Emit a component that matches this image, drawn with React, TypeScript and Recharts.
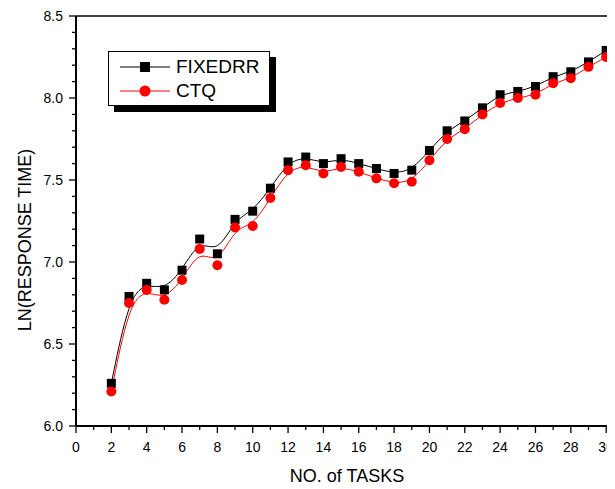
import { LineChart, Line, XAxis, YAxis, Legend, ReferenceLine } from "recharts";

const tasks = [2, 3, 4, 5, 6, 7, 8, 9, 10, 11, 12, 13, 14, 15, 16, 17, 18, 19, 20, 21, 22, 23, 24, 25, 26, 27, 28, 29, 30];
const fixedrr = [6.26, 6.79, 6.87, 6.83, 6.95, 7.14, 7.05, 7.26, 7.31, 7.45, 7.61, 7.64, 7.6, 7.63, 7.6, 7.57, 7.54, 7.56, 7.68, 7.8, 7.86, 7.94, 8.02, 8.04, 8.07, 8.13, 8.16, 8.22, 8.29];
const ctq = [6.21, 6.75, 6.83, 6.77, 6.89, 7.08, 6.98, 7.21, 7.22, 7.39, 7.56, 7.59, 7.54, 7.58, 7.55, 7.51, 7.48, 7.49, 7.62, 7.75, 7.81, 7.9, 7.97, 8.0, 8.02, 8.09, 8.12, 8.19, 8.25];

const seriesOrder = ["FIXEDRR", "CTQ"];
const xTicks = [0, 1, 2, 3, 4, 5, 6, 7, 8, 9, 10, 11, 12, 13, 14, 15, 16, 17, 18, 19, 20, 21, 22, 23, 24, 25, 26, 27, 28, 29, 30];
const yTicks = [6.0, 6.1, 6.2, 6.3, 6.4, 6.5, 6.6, 6.7, 6.8, 6.9, 7.0, 7.1, 7.2, 7.3, 7.4, 7.5, 7.6, 7.7, 7.8, 7.9, 8.0, 8.1, 8.2, 8.3, 8.4, 8.5];

const data = tasks.map((t, i) => ({ tasks: t, FIXEDRR: fixedrr[i], CTQ: ctq[i] }));

const FONT = "'Liberation Sans', Arial, sans-serif";

const XTick = (props: any) => {
  const { x, y, payload } = props;
  const v = payload.value;
  const major = v % 2 === 0;
  return (
    <g>
      <line x1={x} x2={x} y1={y} y2={y + (major ? 7 : 4)} stroke="#000" strokeWidth={1.3} />
      {major && (
        <text x={x} y={y + 26} textAnchor="middle" fontSize={14} fontFamily={FONT} fill="#000">
          {v}
        </text>
      )}
    </g>
  );
};

const YTick = (props: any) => {
  const { x, y, payload } = props;
  const v = payload.value;
  const major = Math.round(v * 10) % 5 === 0;
  return (
    <g>
      <line x1={x} x2={x - (major ? 7 : 4)} y1={y} y2={y} stroke="#000" strokeWidth={1.3} />
      {major && (
        <text x={x - 13} y={y + 5} textAnchor="end" fontSize={14} fontFamily={FONT} fill="#000">
          {v.toFixed(1)}
        </text>
      )}
    </g>
  );
};

const SquareDot = (props: any) => {
  const { cx, cy, index } = props;
  if (cx == null || cy == null) return null;
  return <rect key={`sq-${index}`} x={cx - 4.5} y={cy - 4.5} width={9} height={9} fill="#000" />;
};

const CircleDot = (props: any) => {
  const { cx, cy, index } = props;
  if (cx == null || cy == null) return null;
  return <circle key={`ci-${index}`} cx={cx} cy={cy} r={5} fill="#ff0000" />;
};

const LegendBox = (props: any) => {
  const entries = [...(props.payload || [])].sort(
    (a: any, b: any) => seriesOrder.indexOf(a.value) - seriesOrder.indexOf(b.value)
  );
  return (
    <div
      style={{
        position: "relative",
        width: 160,
        height: 53,
        border: "1px solid #000",
        background: "#fff",
        boxShadow: "6px 6px 0 #000",
        fontFamily: FONT,
      }}
    >
      {entries.map((entry: any, i: number) => {
        const isSquare = entry.value === "FIXEDRR";
        return (
          <div key={entry.value} style={{ position: "absolute", left: 0, top: 4 + i * 24, height: 22, width: 160 }}>
            <svg width={52} height={22} style={{ position: "absolute", left: 11, top: 0 }}>
              <line x1={0} x2={50} y1={11} y2={11} stroke={entry.color} strokeWidth={1} />
              {isSquare ? (
                <rect x={20} y={6} width={10} height={10} fill="#000" />
              ) : (
                <circle cx={25} cy={11} r={5.5} fill="#ff0000" />
              )}
            </svg>
            <span style={{ position: "absolute", left: 67, top: 0, fontSize: 19, lineHeight: "22px", color: "#000" }}>
              {entry.value}
            </span>
          </div>
        );
      })}
    </div>
  );
};

export default function App() {
  return (
    <div style={{ fontFamily: FONT }}>
      <LineChart width={607} height={481} data={data} margin={{ top: 8, right: 0, bottom: 0, left: 0 }}>
        <XAxis
          dataKey="tasks"
          type="number"
          domain={[0, 30.5]}
          ticks={xTicks}
          interval={0}
          allowDataOverflow
          height={63}
          tickSize={0}
          tickMargin={0}
          tickLine={false}
          tick={XTick}
          axisLine={{ stroke: "#000", strokeWidth: 2 }}
          label={{
            content: (p: any) => (
              <text
                x={347 - 8}
                y={p.viewBox.y + 56}
                textAnchor="middle"
                fontSize={18}
                fontFamily={FONT}
                fill="#000"
              >
                NO. of TASKS
              </text>
            ),
          }}
        />
        <YAxis
          type="number"
          domain={[6, 8.5]}
          ticks={yTicks}
          interval={0}
          width={68}
          tickSize={0}
          tickMargin={0}
          tickLine={false}
          tick={YTick}
          axisLine={{ stroke: "#000", strokeWidth: 2 }}
          label={{
            content: () => {
              const cx = 18;
              const cy = 240 - 8;
              return (
                <text
                  x={cx}
                  y={cy}
                  transform={`rotate(-90 ${cx} ${cy})`}
                  textAnchor="middle"
                  dominantBaseline="middle"
                  fontSize={18}
                  fontFamily={FONT}
                  fill="#000"
                >
                  LN(RESPONSE TIME)
                </text>
              );
            },
          }}
        />
        <ReferenceLine y={8.5} stroke="#000" strokeWidth={1.5} ifOverflow="visible" />
        <Legend
          layout="horizontal"
          verticalAlign="middle"
          align="center"
          content={LegendBox}
          wrapperStyle={{ left: 100, top: 43, width: 170 }}
        />
        <Line
          type="basis"
          dataKey="FIXEDRR"
          stroke="#000"
          strokeWidth={1}
          dot={SquareDot}
          activeDot={false}
          isAnimationActive={false}
        />
        <Line
          type="basis"
          dataKey="CTQ"
          stroke="#ff0000"
          strokeWidth={1}
          dot={CircleDot}
          activeDot={false}
          isAnimationActive={false}
        />
      </LineChart>
    </div>
  );
}
